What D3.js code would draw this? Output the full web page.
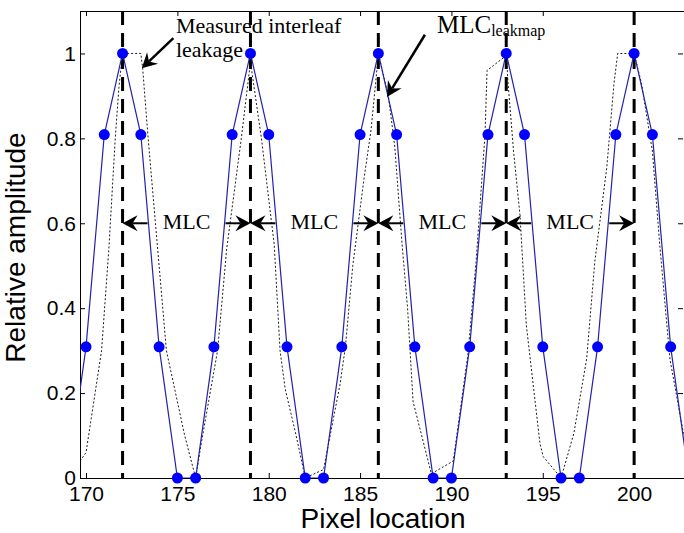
<!DOCTYPE html>
<html>
<head>
<meta charset="utf-8">
<script src="https://cdn.jsdelivr.net/npm/d3@7"></script>
<style>
  body { margin: 0; background: #fff; }
</style>
</head>
<body>
<div id="chart"></div>
<script>
// MLC leakage map (blue, markers) sampled at each pixel
const pixelLocation = [169, 170, 171, 172, 173, 174, 175, 176, 177, 178, 179, 180, 181, 182, 183, 184, 185,
  186, 187, 188, 189, 190, 191, 192, 193, 194, 195, 196, 197, 198, 199, 200, 201, 202, 203]
const mlcAmplitude = [0, 0.309, 0.809, 1, 0.809, 0.309, 0, 0, 0.309, 0.809, 1, 0.809, 0.309, 0, 0, 0.309, 0.809,
  1, 0.809, 0.309, 0, 0, 0.309, 0.809, 1, 0.809, 0.309, 0, 0, 0.309, 0.809, 1, 0.809, 0.309, 0]

// measured interleaf leakage (dotted)
const measuredX = [169.67, 170, 170.85, 171.25, 171.6, 171.8, 172, 173, 173.1, 173.4, 173.8, 174.4, 175.4, 176,
  176.3, 177.2, 177.7, 178.5, 179, 179.6, 180.3, 180.62, 180.9, 181.5, 182, 183,
  183.9, 184.2, 184.6, 185.2, 185.6, 185.85, 186, 186.55, 186.9, 187.3, 187.6, 187.9, 188.9, 190.1,
  190.9, 191.35, 191.84, 191.95, 192.85, 193, 193.1, 193.4, 193.75, 193.9, 194.1, 194.85, 195.03, 196,
  196.7, 197.4, 197.85, 198.5, 198.9, 199.1, 200, 200.4, 201, 201.4, 201.96, 202.7, 202.8]
const measuredY = [0.04, 0.06, 0.30, 0.54, 0.80, 0.92, 1.0, 1.0, 0.965, 0.80, 0.60, 0.30, 0.10, 0.0,
  0.08, 0.30, 0.54, 0.80, 0.98, 0.80, 0.55, 0.30, 0.21, 0.10, 0.0, 0.02,
  0.22, 0.31, 0.50, 0.70, 0.82, 0.93, 1.0, 0.90, 0.78, 0.55, 0.40, 0.18, 0.01, 0.04,
  0.29, 0.51, 0.81, 0.96, 0.99, 1.0, 0.93, 0.77, 0.62, 0.51, 0.36, 0.08, 0.05, 0.0,
  0.105, 0.28, 0.51, 0.73, 0.93, 1.0, 1.0, 0.93, 0.77, 0.55, 0.28, 0.105, 0.09]

const leafEdges = [172, 179, 186, 193, 200]
const xTicks = [170, 175, 180, 185, 190, 195, 200]
const yTicks = [0, 0.2, 0.4, 0.6, 0.8, 1]
const xLabel = 'Pixel location'
const yLabel = 'Relative amplitude'
const intervalLabel = 'MLC'

const width = 684
const height = 533
const margin = { top: 11, left: 80, bottom: 55, right: 0 }
const sans = '"Liberation Sans", Arial, sans-serif'
const serif = '"Liberation Serif", "Times New Roman", serif'

const svg = d3.select('#chart')
  .append('svg')
  .attr('width', width)
  .attr('height', height)

const x = d3.scaleLinear().domain([169.67, 202.73]).range([margin.left, width - margin.right])
const y = d3.scaleLinear().domain([0, 1.1]).range([height - margin.bottom, margin.top])

svg.append('clipPath').attr('id', 'plot')
  .append('rect')
  .attr('x', x.range()[0]).attr('y', y.range()[1])
  .attr('width', x.range()[1] - x.range()[0]).attr('height', y.range()[0] - y.range()[1])

// axes, ticks point inward like MATLAB
const fmt = d3.format('~g')
function styleAxis (g) {
  g.select('.domain').remove()
  g.selectAll('line').attr('stroke', '#000')
  g.selectAll('text').attr('font-family', sans).attr('font-size', 21).attr('fill', '#000')
}
svg.append('g')
  .attr('transform', 'translate(0,' + y(0) + ')')
  .call(d3.axisBottom(x).tickValues(xTicks).tickSizeInner(-5).tickSizeOuter(0).tickPadding(8).tickFormat(fmt))
  .call(styleAxis)
svg.append('g')
  .attr('transform', 'translate(0,' + y(1.1) + ')')
  .call(d3.axisTop(x).tickValues(xTicks).tickSizeInner(-5).tickSizeOuter(0).tickFormat(''))
  .call(styleAxis)
svg.append('g')
  .attr('transform', 'translate(' + x.range()[0] + ',0)')
  .call(d3.axisLeft(y).tickValues(yTicks).tickSizeInner(-5).tickSizeOuter(0).tickPadding(4).tickFormat(fmt))
  .call(styleAxis)
svg.append('g')
  .attr('transform', 'translate(' + (x.range()[1] - 1) + ',0)')
  .call(d3.axisRight(y).tickValues(yTicks).tickSizeInner(-5).tickSizeOuter(0).tickFormat(''))
  .call(styleAxis)

svg.append('rect')
  .attr('x', x.range()[0] + 0.5).attr('y', y(1.1) + 0.5)
  .attr('width', x.range()[1] - x.range()[0]).attr('height', y(0) - y(1.1))
  .attr('fill', 'none').attr('stroke', '#000').attr('stroke-width', 1)

const plot = svg.append('g').attr('clip-path', 'url(#plot)')

// leaf edges
plot.selectAll('.edge')
  .data(leafEdges)
  .join('line')
  .attr('x1', d => x(d)).attr('x2', d => x(d))
  .attr('y1', y(1.1)).attr('y2', y(0))
  .attr('stroke', '#000')
  .attr('stroke-width', 3)
  .attr('stroke-dasharray', '14,8')

const measured = measuredX.map((v, i) => [v, measuredY[i]])
plot.append('path')
  .datum(measured)
  .attr('d', d3.line().x(d => x(d[0])).y(d => y(d[1])))
  .attr('fill', 'none')
  .attr('stroke', '#000')
  .attr('stroke-width', 0.9)
  .attr('stroke-dasharray', '2,2')

const mlc = pixelLocation.map((v, i) => [v, mlcAmplitude[i]])
plot.append('path')
  .datum(mlc)
  .attr('d', d3.line().x(d => x(d[0])).y(d => y(d[1])))
  .attr('fill', 'none')
  .attr('stroke', '#2222aa')
  .attr('stroke-width', 1.2)

svg.selectAll('.dot')
  .data(mlc.filter(d => d[0] >= x.domain()[0] && d[0] <= x.domain()[1]))
  .join('circle')
  .attr('cx', d => x(d[0]))
  .attr('cy', d => y(d[1]))
  .attr('r', 5.5)
  .attr('fill', '#0000ff')

// arrow with a notched, filled head
function arrow (x1, y1, x2, y2, w) {
  const len = 15
  const half = 8
  const notch = 5
  const a = Math.atan2(y2 - y1, x2 - x1)
  const c = Math.cos(a)
  const s = Math.sin(a)
  const bx = x2 - len * c
  const by = y2 - len * s
  const nx = x2 - (len - notch) * c
  const ny = y2 - (len - notch) * s
  svg.append('line')
    .attr('x1', x1).attr('y1', y1).attr('x2', nx).attr('y2', ny)
    .attr('stroke', '#000').attr('stroke-width', w)
  svg.append('path')
    .attr('d', 'M' + x2 + ',' + y2 + 'L' + (bx - half * s) + ',' + (by + half * c) +
      'L' + nx + ',' + ny + 'L' + (bx + half * s) + ',' + (by - half * c) + 'Z')
    .attr('fill', '#000')
}

// MLC width between leaf edges
const gap = 39
d3.pairs(leafEdges).forEach(([a, b]) => {
  const cx = x((a + b) / 2)
  const cy = y(0.6)
  arrow(cx - gap, cy, x(a), cy, 2)
  arrow(cx + gap, cy, x(b), cy, 2)
  svg.append('text')
    .attr('x', cx).attr('y', cy).attr('dy', '0.25em')
    .attr('text-anchor', 'middle')
    .attr('font-family', serif).attr('font-size', 22)
    .text(intervalLabel)
})

// annotations
arrow(x(174.78), y(1.036), x(173.05), y(0.965), 2.5)
const note = svg.append('text')
  .attr('font-family', serif).attr('font-size', 22)
note.append('tspan').attr('x', x(174.92)).attr('y', y(1.048)).text('Measured interleaf')
note.append('tspan').attr('x', x(174.92)).attr('y', y(0.992)).text('leakage')

arrow(x(188.55), y(1.044), x(186.47), y(0.8975), 2.5)
const leak = svg.append('text')
  .attr('x', x(189.21)).attr('y', y(1.048))
  .attr('font-family', serif).attr('font-size', 25)
leak.append('tspan').text('MLC')
leak.append('tspan').attr('font-size', 16).attr('dy', 3).text('leakmap')

// axis titles
svg.append('text')
  .attr('x', (x.range()[0] + x.range()[1]) / 2 + 1).attr('y', 528)
  .attr('text-anchor', 'middle')
  .attr('font-family', sans).attr('font-size', 28)
  .text(xLabel)
svg.append('text')
  .attr('transform', 'translate(25,' + ((y(0) + y(1.1)) / 2 + 3) + ') rotate(-90)')
  .attr('text-anchor', 'middle')
  .attr('font-family', sans).attr('font-size', 28)
  .text(yLabel)
</script>
</body>
</html>
